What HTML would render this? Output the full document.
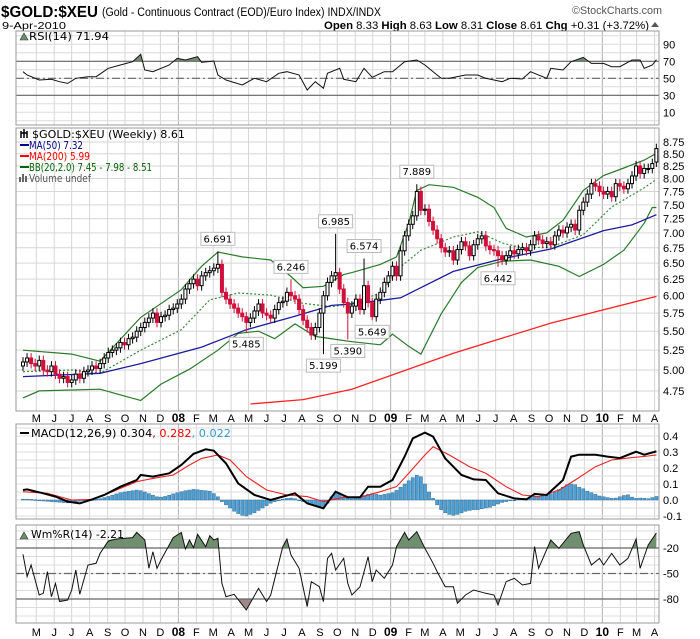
<!DOCTYPE html>
<html><head><meta charset="utf-8"><style>
html,body{margin:0;padding:0;background:#fff;}
svg{display:block;font-family:"DejaVu Sans","Liberation Sans",sans-serif;}
</style></head><body>
<svg id="chart" width="700" height="639" viewBox="0 0 700 639" xmlns="http://www.w3.org/2000/svg">
<defs>
<clipPath id="clipMain"><rect x="16" y="128" width="643" height="283"/></clipPath>
<clipPath id="clipRsi"><rect x="16" y="31" width="643" height="94"/></clipPath>
<clipPath id="clipMacd"><rect x="16" y="424" width="643" height="95"/></clipPath>
<clipPath id="clipW"><rect x="16" y="525" width="643" height="98"/></clipPath>
</defs>
<g id="grid"></g>
<g id="header">
<text x="1" y="17" font-family="Liberation Sans, sans-serif" font-weight="bold" font-size="16" textLength="97" lengthAdjust="spacingAndGlyphs">$GOLD:$XEU</text>
<text x="102" y="16" font-family="Liberation Sans, sans-serif" font-size="11.5" textLength="279" lengthAdjust="spacingAndGlyphs">(Gold - Continuous Contract (EOD)/Euro Index) INDX/INDX</text>
<text x="572" y="14" font-family="Liberation Sans, sans-serif" font-size="11" fill="#555" textLength="90" lengthAdjust="spacingAndGlyphs">©StockCharts.com</text>
<text x="2" y="29" font-family="Liberation Sans, sans-serif" font-size="10.5" textLength="64" lengthAdjust="spacingAndGlyphs">9-Apr-2010</text>
<text x="324" y="29" font-family="Liberation Sans, sans-serif" font-size="11" textLength="325" lengthAdjust="spacingAndGlyphs"><tspan font-weight="bold">Open</tspan> 8.33 <tspan font-weight="bold">High</tspan> 8.63 <tspan font-weight="bold">Low</tspan> 8.31 <tspan font-weight="bold">Close</tspan> 8.61 <tspan font-weight="bold">Chg</tspan> +0.31 (+3.72%)</text>
<path d="M651 27 L655 22 L659 27 Z" fill="#555"/>
</g>
<g id="rsiG" clip-path="url(#clipRsi)"></g>
<g id="mainG" clip-path="url(#clipMain)"></g>
<g id="macdG" clip-path="url(#clipMacd)"></g>
<g id="wG" clip-path="url(#clipW)"></g>
<g id="frames"></g>
<g id="labels" font-size="10.5">
<text x="29" y="40" font-size="10.5" textLength="80" lengthAdjust="spacingAndGlyphs">RSI(14) 71.94</text>
<path d="M20 40 L24 33 L28 40 Z" fill="#6f8f6f" stroke="#333" stroke-width="0.6"/>
<text x="32" y="138" textLength="153" lengthAdjust="spacingAndGlyphs">$GOLD:$XEU (Weekly) 8.61</text>
<path d="M21 131 v7 M24 129 v9 M27 131 v7 M21 133 h6" stroke="#000" stroke-width="1.5" fill="none"/>
<line x1="20" y1="145" x2="29" y2="145" stroke="#00008b" stroke-width="2"/>
<text x="29" y="149" fill="#00008b" textLength="54" lengthAdjust="spacingAndGlyphs">MA(50) 7.32</text>
<line x1="20" y1="156" x2="29" y2="156" stroke="#f00" stroke-width="2"/>
<text x="29" y="160" fill="#f00" textLength="61" lengthAdjust="spacingAndGlyphs">MA(200) 5.99</text>
<line x1="20" y1="167" x2="29" y2="167" stroke="#006400" stroke-width="2"/>
<text x="29" y="171" fill="#006400" textLength="123" lengthAdjust="spacingAndGlyphs">BB(20,2.0) 7.45 - 7.98 - 8.51</text>
<path d="M20 182 v-5 M23 182 v-8 M26 182 v-6" stroke="#666" stroke-width="2"/>
<text x="29" y="182" fill="#555" textLength="62" lengthAdjust="spacingAndGlyphs">Volume undef</text>
<line x1="20" y1="433" x2="29" y2="433" stroke="#000" stroke-width="2"/>
<text x="31" y="437" textLength="200" lengthAdjust="spacingAndGlyphs">MACD(12,26,9) 0.304<tspan fill="#e00">, 0.282</tspan><tspan fill="#39c">, 0.022</tspan></text>
<path d="M20 539 L24 532 L28 539 Z" fill="#6f8f6f" stroke="#333" stroke-width="0.6"/>
<text x="31" y="538" textLength="93" lengthAdjust="spacingAndGlyphs">Wm%R(14) -2.21</text>
</g>
<g id="axes" font-family="Liberation Sans, sans-serif" font-size="11"></g>
</svg>
<script>
// ---------- data ----------
const closes = [5.10,5.15,5.08,5.05,5.12,5.00,4.98,5.05,4.95,4.90,4.92,4.85,4.88,4.95,4.90,4.98,5.00,5.05,5.02,5.08,
5.15,5.22,5.25,5.28,5.35,5.32,5.40,5.42,5.50,5.55,5.62,5.68,5.75,5.62,5.70,5.72,5.80,5.82,5.88,5.95,
6.10,6.18,6.25,6.15,6.30,6.35,6.38,6.42,6.48,6.05,5.95,5.88,5.82,5.75,5.70,5.62,5.68,5.78,5.88,5.75,
5.72,5.68,5.80,5.90,5.92,6.05,6.00,5.95,5.80,5.65,5.55,5.45,5.55,5.75,6.00,6.20,6.30,6.35,6.10,5.90,
5.75,5.85,5.95,5.80,6.15,5.90,5.70,5.95,6.05,6.20,6.30,6.45,6.30,6.70,6.95,7.15,7.30,7.75,7.40,7.42,
7.20,7.05,6.90,6.75,6.68,6.70,6.55,6.72,6.85,6.78,6.62,6.80,6.90,6.95,6.78,6.72,6.70,6.62,6.55,6.62,
6.70,6.65,6.72,6.75,6.70,6.80,6.95,6.88,6.82,6.85,6.80,6.95,7.05,7.00,7.10,7.15,7.05,7.40,7.55,7.70,
7.90,7.85,7.75,7.70,7.75,7.65,7.90,7.85,7.80,7.90,8.05,8.25,8.10,8.20,8.20,8.30,8.61];
const firstOpen = 5.05;
const lastOpen = 8.33;
const peakIdx = [48,66,77,84,97];
const peakVal = [6.691,6.246,6.985,6.574,7.889];
const troughIdx = [55,74,80,86,117];
const troughVal = [5.485,5.199,5.390,5.649,6.442];

const ma50Idx = [0,19,29,44,55,66,76,81,93,106,118,130,143,150,156];
const ma50Val = [4.92,4.96,5.08,5.29,5.52,5.69,5.86,5.88,5.97,6.37,6.57,6.73,7.04,7.14,7.32];
const ma200Idx = [56,69,81,106,130,156];
const ma200Val = [4.60,4.65,4.77,5.21,5.61,5.99];
const bbUpIdx = [0,12,19,29,39,44,48,54,61,66,69,74,79,81,88,92,95,97,100,106,112,116,119,124,129,133,138,143,148,153,156];
const bbUpVal = [5.25,5.20,5.11,5.69,6.09,6.45,6.68,6.60,6.55,6.29,6.12,6.14,6.32,6.35,6.48,6.60,7.17,7.77,7.88,7.83,7.64,7.45,7.08,6.93,7.00,7.22,7.77,8.06,8.21,8.37,8.51];
const bbLoIdx = [0,4,19,29,34,41,48,53,58,62,67,72,77,81,88,91,95,98,103,108,112,118,125,132,137,143,148,153,155,156];
const bbLoVal = [4.67,4.75,4.77,4.64,4.83,5.01,5.25,5.47,5.50,5.40,5.60,5.43,5.39,5.36,5.32,5.46,5.30,5.20,5.74,6.20,6.43,6.53,6.55,6.45,6.29,6.48,6.71,7.17,7.45,7.45];
const bbMidIdx = [0,12,19,29,39,46,53,61,69,76,81,88,93,98,106,112,118,123,130,138,145,153,156];
const bbMidVal = [4.98,5.00,4.96,5.25,5.52,5.94,6.04,6.01,5.89,5.84,5.89,6.04,6.44,6.71,6.93,7.02,6.83,6.75,6.76,6.97,7.46,7.82,7.98];

const rsiIdx = [0,1,4,7,9,11,13,16,18,21,24,27,29,30,32,36,38,40,43,44,47,48,50,54,57,60,63,65,68,70,72,74,75,78,79,82,84,86,89,91,94,97,99,101,103,105,109,112,114,118,120,123,125,129,130,133,135,138,140,143,145,147,150,152,153,155,156];
const rsiVal = [57.8,53.9,48,48.8,46,44,50,51.9,51.9,61.8,65.6,69.5,78.2,59.8,57.8,65.6,73.5,71.5,75.4,68.8,70.3,53.9,48,42.1,50,46,55.9,57.8,53.9,36.2,46,38.2,55.9,61.8,48.8,46,61.8,51.2,57.8,57.8,69.5,71.5,65.6,57.8,50,50,53.9,53.9,50,46,50,49.2,57.8,50,61.8,59.8,69.5,74.6,67.5,67.5,63.6,63.6,71.5,71.5,61.8,65.6,71.94];

const macdIdx = [0,1,5,8,11,14,17,20,24,28,29,32,36,39,42,45,47,50,53,57,61,64,67,70,74,77,80,83,85,88,91,94,96,99,101,104,108,111,114,117,121,124,126,129,133,135,137,141,144,147,151,153,156];
const macdVal = [0.0625,0.066,0.042,0.021,-0.010,-0.021,0.004,0.031,0.083,0.125,0.156,0.146,0.167,0.219,0.288,0.317,0.308,0.229,0.104,0.031,0,0.021,0.042,-0.021,-0.052,0.052,0.017,0.017,0.083,0.083,0.125,0.271,0.385,0.421,0.396,0.260,0.156,0.129,0.125,0.042,0.010,0.004,0.038,0.031,0.125,0.271,0.283,0.283,0.271,0.262,0.302,0.283,0.304];
const sigIdx = [0,6,12,17,22,28,32,37,41,44,48,51,55,60,65,70,74,79,83,88,92,95,99,101,105,110,114,119,123,127,132,136,141,145,150,154,156];
const sigVal = [0.052,0.042,0,0.004,0.052,0.115,0.135,0.156,0.219,0.260,0.281,0.250,0.146,0.0625,0.031,0.021,-0.010,0.017,0.017,0.052,0.083,0.167,0.281,0.333,0.281,0.208,0.167,0.083,0.031,0.021,0.062,0.125,0.208,0.250,0.265,0.275,0.282];
const histVal = [0.005,0.005,0.004,0.002,
-0.004,-0.006,-0.008,-0.01,-0.012,-0.014,-0.016,-0.018,-0.015,-0.012,
-0.008,-0.004,0,0.002,0.004,0.008,
0.015,0.022,0.03,0.038,0.045,
0.05,0.054,0.058,0.062,0.058,0.05,0.04,
0.03,0.02,0.018,0.022,0.03,
0.038,0.045,0.052,0.058,0.062,0.066,0.064,0.06,0.058,0.055,
0.04,0.02,
-0.01,-0.03,-0.05,-0.07,-0.085,-0.095,-0.1,-0.09,-0.08,-0.065,-0.05,-0.035,
-0.02,-0.01,0,0.005,
0.01,0.012,0.008,0,
-0.01,-0.02,-0.03,-0.038,-0.045,-0.04,-0.02,
0.02,0.045,0.035,0.02,
0.01,0.008,0.012,
0.02,0.028,0.035,0.04,0.035,0.03,0.035,0.04,0.045,0.06,
0.08,0.1,0.12,0.14,0.155,0.145,
0.1,0.05,0.01,
-0.03,-0.06,-0.08,-0.09,-0.095,-0.09,-0.08,-0.07,-0.065,-0.06,-0.06,-0.055,-0.05,-0.045,-0.035,-0.025,-0.015,
-0.01,-0.005,0,0.005,0.01,0.01,
0.015,0.02,0.02,0.025,
0.03,0.04,0.05,0.065,0.08,0.095,0.1,0.095,0.08,0.07,
0.055,0.045,0.035,0.025,0.02,0.015,
0.01,0.012,0.02,0.028,0.032,0.018,0.01,0.012,0.01,0.008,0.015,0.022];

const wrIdx = [0,1,2,4,5,6,7,8,9,11,12,13,14,16,18,19,21,23,27,28,30,31,32,33,34,36,37,39,40,41,42,43,45,46,47,48,49,50,52,55,58,60,61,64,65,66,68,70,71,73,74,75,76,77,79,80,81,83,85,86,87,89,91,92,94,95,97,99,101,102,104,106,107,109,111,114,116,117,119,121,123,125,126,127,130,132,135,137,138,140,142,143,145,147,149,151,152,154,156];
const wrVal = [-27.5,-53.7,-40,-75.3,-73.3,-47.8,-77.3,-61.6,-83.1,-81.2,-69.4,-45.9,-74.5,-40,-38,-26.3,-11.8,-9.4,-7.8,-1.6,-10.6,-43.9,-24.3,-43.9,-34.1,-16.5,-7.8,-1.6,-21.2,-10.6,-19.6,-3.9,-18.4,-5.5,-10.6,-8.6,-61.6,-77.3,-74.5,-92.9,-67.5,-83.1,-75.3,-18.4,-9.4,-28.2,-43.9,-89,-59.6,-65.5,-83.1,-32.2,-26.3,-45.9,-32.2,-61.6,-75.3,-65.5,-30.2,-59.6,-45.9,-55.7,-40,-18.4,-1.6,-10.6,-0.8,-20.4,-38,-47.8,-65.5,-65.5,-85.1,-75.3,-69.4,-73.3,-75.3,-87.1,-59.6,-55.7,-63.5,-61.6,-18.4,-43.9,-10.6,-20.4,-2.7,-0.8,-16.5,-40,-32.2,-40,-26.3,-40,-32.2,-9.4,-43.9,-16.5,-2.21];

const monthLabels = ['M','J','J','A','S','O','N','D','08','F','M','A','M','J','J','A','S','O','N','D','09','F','M','A','M','J','J','A','S','O','N','D','10','F','M','A'];
const priceTicks = [8.75,8.50,8.25,8.00,7.75,7.50,7.25,7.00,6.75,6.50,6.25,6.00,5.75,5.50,5.25,5.00,4.75];
const priceTickLabels = ['8.75','8.50','8.25','8.00','7.75','7.50','7.25','7.00','6.75','6.50','6.25','6.00','5.75','5.50','5.25','5.00','4.75'];
const rsiTicks = [90,70,50,30,10];
const macdTicks = [0.4,0.3,0.2,0.1,0.0,-0.1];
const macdTickLabels = ['0.4','0.3','0.2','0.1','0.0','-0.1'];
const wrTicks = [-20,-50,-80];

// ---------- scales ----------
const L = 16, R = 659;
function X(i){ return 23 + i*4.06; }
function yP(v){ return 142 + 407.5*Math.log(8.75/v); }
function yR(v){ return 78.3 - (v-50)*0.85; }
function yM(v){ return 500 - v*160; }
function yW(v){ return 531 - v*0.85; }
const NS = 'http://www.w3.org/2000/svg';
function mk(tag, attrs, parent){ const e=document.createElementNS(NS,tag); for(const k in attrs) e.setAttribute(k,attrs[k]); parent.appendChild(e); return e; }
const grid = document.getElementById('grid');
const frames = document.getElementById('frames');
const axes = document.getElementById('axes');
const panels = [[31,125],[128,411],[424,519],[525,623]];

const lastDate = Date.UTC(2010,3,9);
for(let m=0;m<monthLabels.length;m++){
  const d = Date.UTC(2007,4+m,1);
  const days = (lastDate-d)/86400000;
  const x = X(156.7 - days/7);
  const isYear = /\d/.test(monthLabels[m]);
  for(const p of panels){
    const ln = mk('line',{x1:x,x2:x,y1:p[0],y2:p[1],stroke:isYear?'#b0b0b0':'#d6d6d6','stroke-width':1},grid);
    
    
  }
  for(const yy of [422,636]){
    const t = mk('text',{x:x,y:yy,'text-anchor':'middle','font-weight':isYear?'bold':'normal','font-size':isYear?12:11},axes);
    t.textContent = monthLabels[m];
    
    
  }
}
for(let k=0;k<priceTicks.length;k++){
  const y=yP(priceTicks[k]);
  const ln=mk('line',{x1:L,x2:R,y1:y,y2:y,stroke:'#d6d6d6'},grid);
  
  
  const t=mk('text',{x:R+4,y:y+4},axes);
  t.textContent=priceTickLabels[k];
  
  
}
for(let v=0;v<=100;v+=10){
  const y=yR(v); if(y<31||y>125) continue;
  const ln=mk('line',{x1:L,x2:R,y1:y,y2:y,stroke:'#dcdcdc'},grid);
  
  
}
for(const v of rsiTicks){
  const t=mk('text',{x:R+4,y:yR(v)+4},axes);
  t.textContent=String(v);
  
  
}
for(let v=-0.1;v<=0.45;v+=0.05){
  const y=yM(v);
  const ln=mk('line',{x1:L,x2:R,y1:y,y2:y,stroke:'#dcdcdc'},grid);
  
  
}
for(let k=0;k<macdTicks.length;k++){
  const t=mk('text',{x:R+4,y:yM(macdTicks[k])+4},axes);
  t.textContent=macdTickLabels[k];
  
  
}
for(let v=0;v>=-100;v-=10){
  const y=yW(v);
  const ln=mk('line',{x1:L,x2:R,y1:y,y2:y,stroke:'#dcdcdc'},grid);
  
  
}
for(const v of wrTicks){
  const t=mk('text',{x:R+4,y:yW(v)+4},axes);
  t.textContent=String(v);
  
  
}
for(const p of panels){
  const r=mk('rect',{x:L,y:p[0],width:R-L,height:p[1]-p[0],fill:'none',stroke:'#999'},frames);
  
  
}
function pts(idx,val,fy){ return idx.map((i,k)=>X(i).toFixed(1)+','+fy(val[k]).toFixed(1)).join(' '); }
function refLine(g,y,dash,name){
  const ln=mk('line',{x1:L,x2:R,y1:y,y2:y,stroke:'#666','stroke-width':1.2},g);
  if(dash) ln.setAttribute('stroke-dasharray',dash);
  
  
}
function thresholdFill(g,idx,val,fy,thr,above,color,name){
  const clipId = name+'-clip';
  const defs = document.querySelector('defs');
  const cp = mk('clipPath',{id:clipId},defs);
  const yt = fy(thr);
  if(above) mk('rect',{x:L,y:0,width:R-L,height:yt},cp); else mk('rect',{x:L,y:yt,width:R-L,height:700},cp);
  const d = 'M'+X(idx[0])+','+yt+' L'+pts(idx,val,fy).split(' ').join(' L')+' L'+X(idx[idx.length-1])+','+yt+' Z';
  const p = mk('path',{d:d,fill:color,'clip-path':'url(#'+clipId+')'},g);
  
  
}
const rsiG=document.getElementById('rsiG');
thresholdFill(rsiG,rsiIdx,rsiVal,yR,70,true,'#6f8f6f','rsi-overbought-fill');
refLine(rsiG,yR(70),null,'rsi-70-line');
refLine(rsiG,yR(30),null,'rsi-30-line');
refLine(rsiG,yR(50),'8,3,2,3','rsi-50-line');
let e=mk('polyline',{points:pts(rsiIdx,rsiVal,yR),fill:'none',stroke:'#111','stroke-width':1},rsiG);



const mainG=document.getElementById('mainG');
e=mk('polyline',{points:pts(bbUpIdx,bbUpVal,yP),fill:'none',stroke:'#2a7a2a','stroke-width':1.2},mainG);


e=mk('polyline',{points:pts(bbLoIdx,bbLoVal,yP),fill:'none',stroke:'#2a7a2a','stroke-width':1.2},mainG);


e=mk('polyline',{points:pts(bbMidIdx,bbMidVal,yP),fill:'none',stroke:'#3a8a3a','stroke-width':1.2,'stroke-dasharray':'2,2'},mainG);


e=mk('polyline',{points:pts(ma50Idx,ma50Val,yP),fill:'none',stroke:'#1c1c9c','stroke-width':1.3},mainG);


e=mk('polyline',{points:pts(ma200Idx,ma200Val,yP),fill:'none',stroke:'#f22','stroke-width':1.3},mainG);


for(let i=0;i<closes.length;i++){
  const c=closes[i];
  const o = i===0?firstOpen:(i===closes.length-1?lastOpen:closes[i-1]);
  let hi=Math.max(o,c)*1.012, lo=Math.min(o,c)*0.988;
  const pk=peakIdx.indexOf(i); if(pk>=0) hi=peakVal[pk];
  const tr=troughIdx.indexOf(i); if(tr>=0) lo=troughVal[tr];
  const x=X(i), up=c>=o;
  const col = up?'#000':'#d0103a';
  const w=mk('line',{x1:x,x2:x,y1:yP(hi),y2:yP(lo),stroke:col,'stroke-width':1},mainG);
  
  
  const yt=yP(Math.max(o,c)), yb=yP(Math.min(o,c));
  const b=mk('rect',{x:x-1.5,y:yt,width:3,height:Math.max(1,yb-yt),fill:up?'#fff':'#d0103a',stroke:col,'stroke-width':1},mainG);
  
  
}
function annot(i,v,isPeak){
  const x=X(i), y=yP(v);
  const by = isPeak? y-19 : y+5;
  const g=mk('g',{},mainG);
  
  
  mk('rect',{x:x-17,y:by,width:34,height:13,fill:'#fff',stroke:'#bbb'},g);
  const t=mk('text',{x:x,y:by+10,'text-anchor':'middle','font-size':10},g);
  t.textContent=v.toFixed(3);
}
peakIdx.forEach((i,k)=>annot(i,peakVal[k],true));
troughIdx.forEach((i,k)=>annot(i,troughVal[k],false));

const macdG=document.getElementById('macdG');
for(let i=0;i<histVal.length;i++){
  const v=histVal[i], y0=yM(0), y1=yM(v);
  const r=mk('rect',{x:X(i)-1.6,y:Math.min(y0,y1),width:3.2,height:Math.max(0.8,Math.abs(y1-y0)),fill:'#4f9fd2',stroke:'#2f6f9f','stroke-width':0.5},macdG);
  
  
}
e=mk('polyline',{points:pts(sigIdx,sigVal,yM),fill:'none',stroke:'#e22','stroke-width':1.1},macdG);


e=mk('polyline',{points:pts(macdIdx,macdVal,yM),fill:'none',stroke:'#000','stroke-width':2},macdG);



const wG=document.getElementById('wG');
thresholdFill(wG,wrIdx,wrVal,yW,-20,true,'#6f8f6f','wr-overbought-fill');
thresholdFill(wG,wrIdx,wrVal,yW,-80,false,'#a08888','wr-oversold-fill');
refLine(wG,yW(-20),null,'wr-20-line');
refLine(wG,yW(-80),null,'wr-80-line');
refLine(wG,yW(-50),'8,3,2,3','wr-50-line');
e=mk('polyline',{points:pts(wrIdx,wrVal,yW),fill:'none',stroke:'#111','stroke-width':1},wG);


</script>
</body></html>
